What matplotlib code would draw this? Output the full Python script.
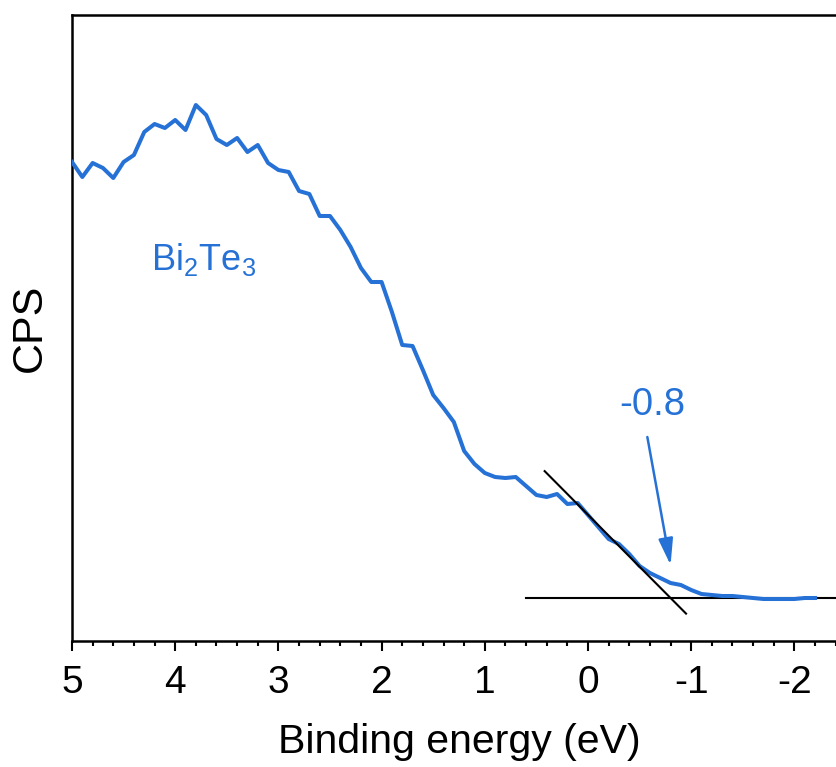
import numpy as np
import matplotlib
matplotlib.use("Agg")
import matplotlib.pyplot as plt
from matplotlib.ticker import MultipleLocator

plt.rcParams["font.family"] = ["Liberation Sans", "DejaVu Sans"]
plt.rcParams["mathtext.default"] = "regular"

# Valence-band spectrum, 0.1 eV steps from 5.0 down to -2.2 eV
ENERGY_START, ENERGY_STOP, ENERGY_STEP = 5.0, -2.2, -0.1
cps = [
    479, 464, 478, 473, 463, 479, 486, 509, 517, 513,
    521, 511, 536, 526, 502, 496, 503, 489, 496, 478,
    471, 469, 450, 447, 425, 425, 411, 394, 373, 359,
    359, 329, 296, 295, 271, 246, 233, 219, 190, 177,
    168, 164, 163, 164, 155, 146, 144, 147, 137, 138,
    126, 114, 102, 97, 87, 75, 68, 63, 58, 56,
    51, 47, 46, 45, 45, 44, 43, 42, 42, 42,
    42, 43, 43,
]

# Leading-edge extrapolation
vbm_onset = -0.8          # eV, where tangent meets the background
background = 43
edge_slope = 104          # CPS per eV along the leading edge
tangent_span = (0.42, -0.95)
background_span = (0.6, -2.5)

sample_label = r"Bi$_2$Te$_3$"
xticks = [5, 4, 3, 2, 1, 0, -1, -2]

BLUE = "#2671d6"

energy = np.round(np.arange(ENERGY_START, ENERGY_STOP + ENERGY_STEP / 2, ENERGY_STEP), 1)

fig = plt.figure(figsize=(8.37, 7.67), dpi=100, facecolor="white")
ax = fig.add_axes([72 / 837, 126 / 767, 774 / 837, 626 / 767])

ax.plot(energy, cps, color=BLUE, lw=2.9, solid_joinstyle="round", zorder=3)

# background line and tangent through the onset
ax.plot(background_span, [background, background], color="black", lw=1.5,
        zorder=2, clip_on=False)
tx = np.array(tangent_span)
ax.plot(tx, background + edge_slope * (tx - vbm_onset), color="black", lw=1.5, zorder=4)

ax.annotate(
    "", xy=(vbm_onset, 76), xytext=(-0.575, 204),
    arrowprops=dict(arrowstyle="-|>,head_length=0.8,head_width=0.22",
                    mutation_scale=20, color=BLUE, lw=1.8, shrinkA=0, shrinkB=0),
)
ax.text(-0.62, 226, f"{vbm_onset:g}", color=BLUE, fontsize=27.5, ha="center", va="baseline")
ax.text(4.23, 371, sample_label, color=BLUE, fontsize=26, ha="left", va="baseline")

ax.set_xlim(5, -2.5)
ax.set_ylim(0, 626)
ax.set_xticks(xticks)
ax.set_xticklabels([f"{t:g}" for t in xticks])
ax.xaxis.set_minor_locator(MultipleLocator(0.2))
ax.set_yticks([])

ax.tick_params(axis="x", which="major", direction="out", length=7.2, width=1.5,
               labelsize=28, pad=10)
ax.tick_params(axis="x", which="minor", direction="out", length=3.6, width=1.5)
for side in ["left", "bottom", "top", "right"]:
    ax.spines[side].set_linewidth(1.8)

ax.set_xlabel("Binding energy (eV)", fontsize=29.5, labelpad=16)
ax.set_ylabel("CPS", fontsize=31, labelpad=16)

fig.savefig("out.png", dpi=100, facecolor="white")
plt.close(fig)
